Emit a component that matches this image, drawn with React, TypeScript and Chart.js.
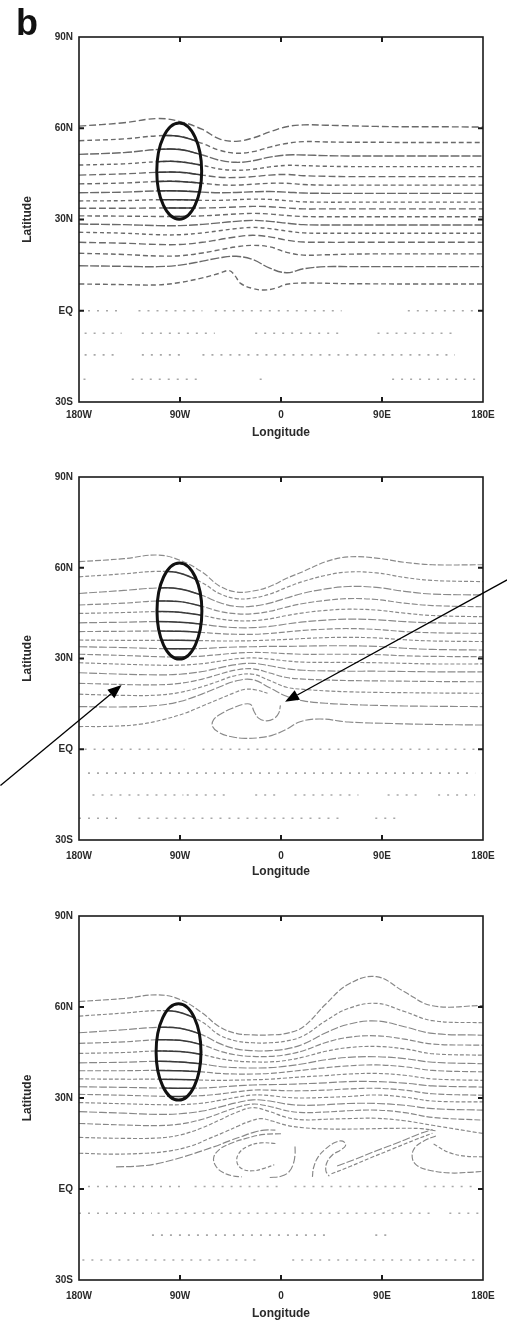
import React, { useEffect, useRef } from 'react';
import { Chart, registerables } from 'chart.js';

Chart.register(...registerables);

type Pt = [number, number];

// ---------- axis labels ----------
const xTickValues = [-180, -90, 0, 90, 180];
const xTickLabels = ['180W', '90W', '0', '90E', '180E'];
const yTickValues = [-30, 0, 30, 60, 90];
const yTickLabels = ['30S', 'EQ', '30N', '60N', '90N'];

// ---------- shared longitude grid for zonal contour lines ----------
const lonGrid = [-180, -140, -110, -90, -70, -55, -40, -25, -10, 5, 20, 40, 60, 85, 110, 135, 180];

// ---------- panel 1 (top) ----------
const p1Lats: number[][] = [
  [60.7, 61.8, 63.2, 62.2, 59.6, 56.5, 55.7, 56.8, 58.8, 60.5, 61.1, 61, 60.8, 60.6, 60.5, 60.5, 60.4],
  [55.9, 56.5, 57.5, 57.3, 55, 52.8, 51.8, 52.3, 53.8, 55, 55.6, 55.5, 55.4, 55.4, 55.3, 55.3, 55.3],
  [51.4, 52, 53, 53, 51.2, 49.5, 48.8, 49.3, 50.5, 51.2, 51.2, 51, 50.9, 50.9, 50.9, 50.9, 50.9],
  [47.9, 48.3, 49, 49, 47.8, 46.6, 46.2, 46.5, 47.3, 47.8, 47.7, 47.5, 47.4, 47.4, 47.4, 47.4, 47.4],
  [44.6, 45, 45.5, 45.5, 44.6, 43.9, 43.8, 44.1, 44.6, 44.8, 44.4, 44.2, 44.1, 44.1, 44.1, 44.1, 44.1],
  [41.7, 42, 42.5, 42.5, 41.9, 41.4, 41.3, 41.6, 41.9, 41.9, 41.5, 41.3, 41.3, 41.3, 41.3, 41.3, 41.3],
  [38.8, 39, 39.4, 39.4, 39, 38.8, 38.9, 39.1, 39.2, 39, 38.7, 38.6, 38.6, 38.6, 38.6, 38.6, 38.6],
  [36.1, 36.2, 36.5, 36.5, 36.3, 36.3, 36.5, 36.7, 36.6, 36.2, 35.8, 35.7, 35.7, 35.7, 35.7, 35.7, 35.7],
  [33.7, 33.7, 33.8, 33.8, 33.8, 33.9, 34.1, 34.3, 34.2, 33.8, 33.5, 33.5, 33.5, 33.5, 33.5, 33.5, 33.5],
  [31.2, 31.1, 31, 31, 31.2, 31.5, 31.8, 32, 31.8, 31.3, 31, 30.9, 30.9, 30.9, 30.9, 30.9, 30.9],
  [28.5, 28.3, 28, 28, 28.4, 28.9, 29.4, 29.7, 29.4, 28.8, 28.3, 28.2, 28.2, 28.2, 28.2, 28.2, 28.2],
  [25.8, 25.5, 25, 25, 25.6, 26.3, 27, 27.4, 27, 26.2, 25.6, 25.5, 25.5, 25.5, 25.5, 25.5, 25.5],
  [22.5, 22.2, 21.8, 21.8, 22.5, 23.4, 24.3, 24.8, 24.3, 23.2, 22.6, 22.5, 22.5, 22.5, 22.5, 22.5, 22.5],
  [18.9, 18.5, 18, 18.1, 19, 20, 21, 21.5, 21, 19.2, 18.3, 18.4, 18.6, 18.7, 18.7, 18.7, 18.7],
  [14.8, 14.6, 14.5, 15, 16.3, 17.4, 17.9, 16.8, 14, 12.5, 13.8, 14.5, 14.5, 14.5, 14.5, 14.5, 14.5],
];
const p1Bottom: Pt[] = [
  [-180, 8.8], [-140, 8.6], [-110, 8.5], [-90, 9.3], [-70, 10.8], [-55, 12.3], [-46, 13.2], [-41, 11.5],
  [-36, 9], [-25, 7.3], [-15, 6.8], [-5, 7.4], [5, 8.7], [20, 9.1], [60, 8.9], [120, 8.8], [180, 8.8],
];

// ---------- panel 2 (middle) ----------
const p2Lats: number[][] = [
  [62, 63, 64.2, 62.5, 58.5, 54, 52, 52.3, 53.8, 56.5, 58.8, 62, 63.6, 63.2, 61.8, 61, 61],
  [57, 58, 58.8, 58.2, 55, 51.5, 49.8, 50, 51.3, 53.5, 55.5, 57.5, 58.6, 58.3, 56.8, 55.8, 55.4],
  [51.5, 52.5, 53.3, 53, 50.8, 48.5, 47.2, 47.3, 48.3, 50, 51.6, 53, 53.8, 53.5, 52.2, 51.3, 51],
  [47.7, 48.3, 49, 48.8, 47.2, 45.6, 44.8, 44.8, 45.6, 47, 48.2, 49.2, 49.8, 49.5, 48.3, 47.5, 47.1],
  [44.9, 45.2, 45.5, 45.3, 44.2, 43.1, 42.5, 42.5, 43.1, 44.2, 45.1, 45.9, 46.3, 46, 45, 44.2, 43.8],
  [41.8, 42, 42.2, 42, 41.3, 40.6, 40.2, 40.2, 40.6, 41.4, 42.1, 42.7, 43, 42.8, 42.2, 41.8, 41.6],
  [38.9, 39, 39.1, 39, 38.6, 38.2, 38, 38, 38.3, 38.8, 39.3, 39.7, 39.9, 39.6, 38.9, 38.5, 38.3],
  [36.1, 36, 36, 36, 35.9, 35.8, 35.8, 35.9, 36.1, 36.3, 36.6, 36.9, 37, 36.8, 36.2, 35.8, 35.6],
  [33.9, 33.6, 33.3, 33.2, 33.3, 33.6, 33.8, 33.9, 34, 34, 34.1, 34.2, 34.2, 34, 33.4, 33, 32.8],
  [31.4, 31, 30.6, 30.5, 30.8, 31.3, 31.8, 32, 31.9, 31.6, 31.4, 31.4, 31.4, 31.3, 30.9, 30.7, 30.6],
  [28.6, 28.1, 27.8, 27.8, 28.3, 29.1, 29.9, 30.2, 29.8, 29.2, 28.8, 28.7, 28.7, 28.6, 28.4, 28.2, 28.2],
  [25.3, 24.8, 24.6, 24.8, 25.7, 26.9, 28, 28.4, 27.6, 26.6, 26.1, 25.9, 25.8, 25.8, 25.7, 25.6, 25.6],
  [21.8, 21.4, 21.3, 21.8, 23.2, 24.8, 26.2, 26.6, 25.2, 23.7, 23.2, 22.9, 22.7, 22.6, 22.5, 22.4, 22.3],
  [18.2, 17.8, 17.9, 18.8, 20.7, 22.6, 24.4, 24.8, 22.7, 20.5, 19.8, 19.3, 19, 18.8, 18.7, 18.6, 18.5],
  [14.1, 14, 14.5, 15.8, 18.3, 20.6, 22.6, 23, 20.3, 17.5, 16, 15.2, 14.8, 14.5, 14.3, 14.2, 14.1],
];
const p2Bottom: Pt[] = [
  [-180, 7.5], [-150, 7.6], [-125, 8.3], [-105, 9.8], [-85, 12], [-70, 14.3], [-55, 16.6],
  [-42, 18.6], [-32, 19.8], [-22, 19.6], [-12, 18.5],
];
const p2Vortex: Pt[] = [
  [180, 8], [135, 8.2], [100, 8.5], [60, 9], [35, 10], [17, 9.1], [5, 6.6], [-8, 4.6], [-20, 3.8],
  [-32, 3.6], [-45, 4.2], [-55, 5.5], [-61, 7.5], [-60, 9.8], [-53, 11.8], [-43, 13.6], [-33, 14.9],
  [-27, 14.8], [-24, 12.5], [-20, 10.3], [-13, 9.4], [-6, 10.2], [-2, 12], [-0.5, 14.5],
];

// ---------- panel 3 (bottom) ----------
const p3Lats: number[][] = [
  [61.8, 62.8, 64, 62.5, 58, 53.5, 51.3, 50.8, 50.8, 51.3, 53.5, 61, 67.5, 70, 65, 60.4, 60.5],
  [57, 58, 58.8, 58.2, 55, 50.8, 48.8, 48.2, 48.2, 48.8, 50.5, 55.5, 59.5, 61.2, 58.5, 55.5, 54.8],
  [51.5, 52.5, 53.3, 53, 50.8, 48, 46.2, 45.6, 45.6, 46.2, 47.8, 51.5, 54.3, 55.4, 53.5, 51.3, 50.7],
  [48, 48.5, 49.2, 49, 47.5, 45.5, 44.2, 43.7, 43.7, 44.3, 45.6, 48.3, 50, 50.5, 49.4, 47.8, 47.4],
  [44.7, 45, 45.5, 45.3, 44.3, 43, 42.2, 41.9, 41.9, 42.4, 43.5, 45.4, 46.6, 47, 46.2, 44.6, 44.1],
  [41.6, 41.8, 42.1, 41.9, 41.2, 40.4, 40, 39.9, 40, 40.5, 41.3, 42.6, 43.4, 43.6, 43, 41.8, 41.3],
  [39, 39, 39.1, 39, 38.6, 38.1, 37.9, 37.9, 38.1, 38.6, 39.2, 40, 40.6, 40.9, 40.3, 39.1, 38.6],
  [36.3, 36.2, 36.2, 36.1, 35.9, 35.8, 35.9, 36, 36.2, 36.6, 37, 37.4, 37.9, 38.1, 37.5, 36.3, 35.8],
  [33.7, 33.5, 33.3, 33.2, 33.3, 33.6, 34, 34.3, 34.4, 34.5, 34.7, 35, 35.4, 35.4, 34.9, 34, 33.6],
  [31.2, 30.9, 30.6, 30.5, 30.8, 31.3, 32, 32.6, 32.6, 32.4, 32.4, 32.6, 33, 33.2, 32.6, 31.4, 30.9],
  [28.5, 28.1, 27.8, 27.8, 28.3, 29.2, 30.2, 31, 30.8, 30.2, 30, 30.2, 30.5, 31, 30.3, 29, 28.7],
  [25.5, 25, 24.6, 24.8, 25.7, 27, 28.4, 29.4, 29, 28, 27.6, 27.8, 28.2, 28.2, 27.6, 26.5, 26],
  [21.6, 21.1, 20.9, 21.4, 23, 24.9, 26.8, 28, 27.2, 25.8, 25.2, 25.4, 25.8, 26, 25.2, 23.6, 22.7],
  [17, 16.7, 16.8, 17.8, 20.2, 22.7, 25.2, 26.8, 25.5, 23.6, 22.8, 23, 23.2, 23.3, 22.5, 21, 18.3],
];
const p3Lower15: Pt[] = [
  [-180, 11.8], [-150, 11.5], [-120, 11.8], [-100, 12.5], [-80, 14.2], [-65, 16.5], [-50, 18.8],
  [-38, 20.8], [-28, 22.3], [-18, 23.2], [-8, 22.4], [5, 21], [20, 20.2], [40, 19.8], [70, 19.8],
  [100, 20], [125, 19.9], [138, 19.2],
];
const p3Lower16: Pt[] = [
  [-147, 7.3], [-125, 7.6], [-111, 8.3], [-87, 10.6], [-60, 13.9], [-45, 16], [-36, 17.2],
  [-25, 18.6], [-15, 19.4], [-5, 19.4],
];
const p3Roll1Outer: Pt[] = [
  [0, 18.2], [-15, 18], [-30, 16.8], [-45, 15], [-55, 13], [-60, 10.3], [-58, 7.5], [-52, 5.5],
  [-43, 4.3], [-35, 4],
];
const p3Roll1Inner: Pt[] = [
  [-5, 15], [-18, 15.2], [-30, 14], [-38, 11.5], [-39, 8.5], [-34, 6.5], [-25, 6], [-15, 6.8], [-6, 8],
];
const p3Roll2: Pt[] = [[-10, 3.8], [0, 4.2], [7, 5.6], [11, 8.3], [12.5, 11.3], [12.5, 14]];
const p3Roll3: Pt[] = [
  [28, 4], [29, 7], [33, 10.5], [40, 13.3], [48, 15.3], [55, 15.8], [57.5, 14.3], [53, 12.8],
  [46, 11.3], [41, 8.8], [40, 6], [43, 4.2],
];
const p3BandA: Pt[] = [[45, 5], [62, 7.5], [80, 10.3], [100, 13.3], [120, 16.3], [135, 18.4]];
const p3BandB: Pt[] = [[50, 7.6], [66, 9.8], [85, 12.6], [105, 15.4], [124, 18.3], [135, 19.6]];
const p3Roll5: Pt[] = [
  [138, 17.5], [128, 16], [119, 13.5], [117, 10.3], [121, 7.8], [132, 6.2], [150, 5.3], [168, 5.5], [180, 5.8],
];
const p3Tail: Pt[] = [[136, 14.8], [150, 12], [165, 10.8], [180, 10.6]];

// ---------- faint dotted rows south of the jet: latitude + [lonStart, lonEnd] segments ----------
const p1DotLats = [0, -7.4, -14.5, -22.5];
const p1DotSegs: Pt[][] = [
  [[-180, -145], [-127, -70], [-59, 54], [113, 173]],
  [[-175, -142], [-124, -59], [-23, 54], [86, 152]],
  [[-175, -145], [-124, -88], [-70, 155]],
  [[-176, -172], [-133, -70], [-19, -16], [99, 173]],
];
const p2DotLats = [0, -7.9, -15.1, -22.8];
const p2DotSegs: Pt[][] = [
  [[-175, -86], [-70, 173]],
  [[-172, 173]],
  [[-168, -87], [-84, -48], [-23, 1], [12, 69], [95, 125], [140, 173]],
  [[-180, -142], [-127, 54], [84, 108]],
];
const p3DotLats = [0.8, -8, -15.2, -23.4];
const p3DotSegs: Pt[][] = [
  [[-172, -85], [-77, 1], [12, 113], [128, 173]],
  [[-180, -115], [-110, 137], [150, 178]],
  [[-115, 42], [84, 99]],
  [[-177, -17], [10, 173]],
];

// ---------- forcing region (ellipse) and annotation arrows ----------
const ellipseCenters: Pt[] = [[-90.7, 45.9], [-90.5, 45.7], [-91.3, 45.2]];
const ellipseRadii: Pt[] = [[20, 15.8], [20, 15.9], [20, 15.9]];
const arrowTails: Pt[] = [[-250, -12], [201.5, 56]];
const arrowHeads: Pt[] = [[-142, 21.2], [3.6, 15.7]];

const panelLats = [p1Lats, p2Lats, p3Lats];
const panelCurves: Pt[][][] = [
  [p1Bottom],
  [p2Bottom, p2Vortex],
  [p3Lower15, p3Lower16, p3Roll1Outer, p3Roll1Inner, p3Roll2, p3Roll3, p3BandA, p3BandB, p3Roll5, p3Tail],
];
const panelDotLats = [p1DotLats, p2DotLats, p3DotLats];
const panelDotSegs = [p1DotSegs, p2DotSegs, p3DotSegs];

// ---------- styling / layout ----------
const FONT = "'Liberation Sans', Arial, sans-serif";
const panelLayout = [
  { height: 440, top: 37, axisH: 38, tickPad: 7.3, titlePad: 0 },
  { height: 440, top: 37, axisH: 40, tickPad: 10.7, titlePad: 1 },
  { height: 443, top: 36, axisH: 43, tickPad: 10.7, titlePad: 2.5 },
];
const contourStyle = [
  { color: '#6a6a6a', width: 1.4, dashes: [[7, 3], [5, 3], [9, 2], [4, 3]] },
  { color: '#8a8a8a', width: 1.15, dashes: [[6, 2], [4, 2], [8, 2]] },
  { color: '#878787', width: 1.15, dashes: [[6, 2], [4, 2], [8, 2]] },
];

function lineDs(points: Pt[], color: string, width: number, dash: number[], tension = 0.4) {
  return {
    type: 'line',
    data: points.map(([x, y]) => ({ x, y })),
    borderColor: color,
    borderWidth: width,
    borderDash: dash,
    pointRadius: 0,
    fill: false,
    tension,
    kind: 'contour',
  } as any;
}

function dotDs(lat: number, segs: Pt[]) {
  const data: any[] = [];
  segs.forEach(([a, b]) => {
    data.push({ x: a, y: lat }, { x: b, y: lat }, { x: b, y: null });
  });
  return {
    type: 'line',
    data,
    borderColor: '#a8a8a8',
    borderWidth: 1.6,
    borderDash: [2, 7],
    pointRadius: 0,
    fill: false,
    tension: 0,
    spanGaps: false,
    kind: 'dots',
  } as any;
}

function drawArrow(ctx: CanvasRenderingContext2D, x0: number, y0: number, x1: number, y1: number) {
  const ang = Math.atan2(y1 - y0, x1 - x0);
  const len = 14;
  const hw = 5.5;
  const bx = x1 - len * Math.cos(ang);
  const by = y1 - len * Math.sin(ang);
  ctx.save();
  ctx.strokeStyle = '#000';
  ctx.fillStyle = '#000';
  ctx.lineWidth = 1.3;
  ctx.beginPath();
  ctx.moveTo(x0, y0);
  ctx.lineTo(bx, by);
  ctx.stroke();
  ctx.beginPath();
  ctx.moveTo(x1, y1);
  ctx.lineTo(bx + hw * Math.sin(ang), by - hw * Math.cos(ang));
  ctx.lineTo(bx - hw * Math.sin(ang), by + hw * Math.cos(ang));
  ctx.closePath();
  ctx.fill();
  ctx.restore();
}

function makeOverlay(p: number) {
  return {
    id: 'overlay' + p,
    afterDatasetsDraw(chart: any) {
      const { ctx, scales } = chart;
      const xs = scales.x;
      const ys = scales.y;
      const [cx, cy] = ellipseCenters[p];
      const [rx, ry] = ellipseRadii[p];
      const px = xs.getPixelForValue(cx);
      const py = ys.getPixelForValue(cy);
      const prx = Math.abs(xs.getPixelForValue(cx + rx) - px);
      const pry = Math.abs(ys.getPixelForValue(cy + ry) - py);
      // contour lines inside the forcing region appear darker
      ctx.save();
      ctx.beginPath();
      ctx.ellipse(px, py, prx, pry, 0, 0, Math.PI * 2);
      ctx.clip();
      ctx.strokeStyle = '#3a3a3a';
      ctx.lineWidth = 1.5;
      ctx.setLineDash([]);
      chart.data.datasets.forEach((ds: any, i: number) => {
        if (ds.kind !== 'contour') return;
        const meta = chart.getDatasetMeta(i);
        const el: any = meta.dataset;
        ctx.beginPath();
        if (el && typeof el.path === 'function') {
          el.path(ctx);
        } else {
          meta.data.forEach((pt: any, k: number) => (k ? ctx.lineTo(pt.x, pt.y) : ctx.moveTo(pt.x, pt.y)));
        }
        ctx.stroke();
      });
      ctx.restore();
      // ellipse outline
      ctx.save();
      ctx.beginPath();
      ctx.ellipse(px, py, prx, pry, 0, 0, Math.PI * 2);
      ctx.lineWidth = 3;
      ctx.strokeStyle = '#111';
      ctx.stroke();
      ctx.restore();
    },
    afterDraw(chart: any) {
      const { ctx, chartArea, scales } = chart;
      const xs = scales.x;
      const ys = scales.y;
      const { left, right, top, bottom } = chartArea;
      ctx.save();
      ctx.strokeStyle = '#1a1a1a';
      ctx.lineWidth = 1.6;
      ctx.strokeRect(left, top, right - left, bottom - top);
      ctx.lineWidth = 2;
      xTickValues.slice(1, -1).forEach((v) => {
        const x = xs.getPixelForValue(v);
        ctx.beginPath();
        ctx.moveTo(x, top);
        ctx.lineTo(x, top + 5);
        ctx.moveTo(x, bottom);
        ctx.lineTo(x, bottom - 5);
        ctx.stroke();
      });
      yTickValues.slice(1, -1).forEach((v) => {
        const y = ys.getPixelForValue(v);
        ctx.beginPath();
        ctx.moveTo(left, y);
        ctx.lineTo(left + 5, y);
        ctx.moveTo(right, y);
        ctx.lineTo(right - 5, y);
        ctx.stroke();
      });
      ctx.restore();
      if (p === 0) {
        ctx.save();
        ctx.fillStyle = '#111';
        ctx.font = `bold 36px ${FONT}`;
        ctx.textBaseline = 'alphabetic';
        ctx.textAlign = 'left';
        ctx.fillText('b', 16, 35);
        ctx.restore();
      }
      if (p === 1) {
        arrowTails.forEach(([tx, ty], i) => {
          const [hx, hy] = arrowHeads[i];
          drawArrow(
            ctx,
            xs.getPixelForValue(tx),
            ys.getPixelForValue(ty),
            xs.getPixelForValue(hx),
            ys.getPixelForValue(hy),
          );
        });
      }
    },
  };
}

function buildConfig(p: number): any {
  const L = panelLayout[p];
  const st = contourStyle[p];
  const datasets: any[] = [];
  panelDotLats[p].forEach((lat, i) => datasets.push(dotDs(lat, panelDotSegs[p][i])));
  panelLats[p].forEach((lats, i) => {
    const pts: Pt[] = lonGrid.map((lon, k) => [lon, lats[k]]);
    datasets.push(lineDs(pts, st.color, st.width, st.dashes[i % st.dashes.length]));
  });
  panelCurves[p].forEach((pts, i) => {
    datasets.push(lineDs(pts, st.color, st.width, st.dashes[(i + 1) % st.dashes.length]));
  });
  const tickFont = { family: FONT, size: 10, weight: 'bold' };
  const titleFont = { family: FONT, size: 12, weight: 'bold' };
  return {
    type: 'line',
    data: { datasets },
    options: {
      animation: false,
      responsive: false,
      maintainAspectRatio: false,
      devicePixelRatio: 1,
      events: [],
      layout: { padding: { left: 0, right: 24, top: L.top, bottom: 0 } },
      plugins: { legend: { display: false }, tooltip: { enabled: false }, title: { display: false } },
      elements: { point: { radius: 0 } },
      scales: {
        x: {
          type: 'linear',
          min: -180,
          max: 180,
          grid: { display: false, drawTicks: false },
          border: { display: false },
          afterBuildTicks: (s: any) => {
            s.ticks = xTickValues.map((v) => ({ value: v }));
          },
          ticks: {
            autoSkip: false,
            maxRotation: 0,
            padding: L.tickPad,
            font: tickFont,
            color: '#2a2a2a',
            callback: (v: any) => {
              const i = xTickValues.indexOf(Number(v));
              return i >= 0 ? xTickLabels[i] : '';
            },
          },
          title: {
            display: true,
            text: 'Longitude',
            font: titleFont,
            color: '#2a2a2a',
            padding: { top: 0, bottom: L.titlePad },
          },
          afterFit: (s: any) => {
            s.height = L.axisH;
          },
        },
        y: {
          type: 'linear',
          min: -30,
          max: 90,
          grid: { display: false, drawTicks: false },
          border: { display: false },
          afterBuildTicks: (s: any) => {
            s.ticks = yTickValues.map((v) => ({ value: v }));
          },
          ticks: {
            autoSkip: false,
            padding: 6,
            font: tickFont,
            color: '#2a2a2a',
            callback: (v: any) => {
              const i = yTickValues.indexOf(Number(v));
              return i >= 0 ? yTickLabels[i] : '';
            },
          },
          title: {
            display: true,
            text: 'Latitude',
            font: titleFont,
            color: '#2a2a2a',
            padding: { top: 20.8, bottom: 0 },
          },
          afterFit: (s: any) => {
            s.width = 79;
          },
        },
      },
    },
    plugins: [makeOverlay(p)],
  };
}

function Panel({ idx }: { idx: number }) {
  const ref = useRef<HTMLCanvasElement>(null);
  const h = panelLayout[idx].height;
  useEffect(() => {
    if (!ref.current) return;
    const chart = new Chart(ref.current, buildConfig(idx));
    return () => chart.destroy();
  }, [idx]);
  return <canvas ref={ref} width={507} height={h} style={{ display: 'block', width: 507, height: h }} />;
}

export default function App() {
  const tops = [0, 440, 880];
  return (
    <div style={{ position: 'absolute', left: 0, top: 0, width: 507, height: 1323, background: '#fff', overflow: 'hidden' }}>
      {tops.map((t, i) => (
        <div key={i} style={{ position: 'absolute', left: 0, top: t }}>
          <Panel idx={i} />
        </div>
      ))}
    </div>
  );
}
